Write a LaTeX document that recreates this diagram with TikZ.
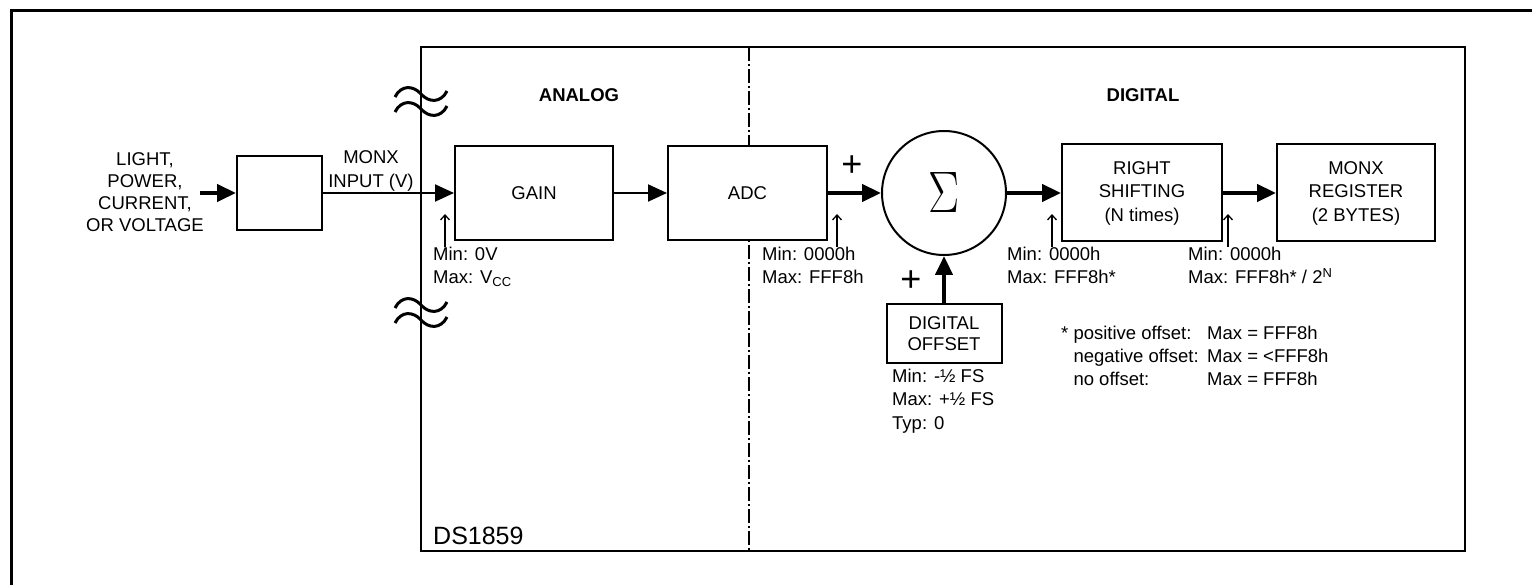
\documentclass[tikz,border=0pt]{standalone}
\usepackage{fontspec}
\setmainfont{Liberation Sans}
\usepackage{graphicx}
\usetikzlibrary{arrows.meta,positioning,shapes}

\begin{document}
\begin{tikzpicture}[x=1pt,y=-1pt,>={Triangle[length=19pt,width=17pt]},
    font=\fontsize{18.5}{23.5}\selectfont,
    block/.style={draw,line width=2pt,fill=white,align=center,inner sep=0pt},
    sig/.style={->,line width=2pt},
    bus/.style={->,line width=4.5pt},
    probe/.style={-{Straight Barb[length=5pt,width=9pt]},line width=1.3pt},
    note/.style={align=left,anchor=north west,inner sep=0pt},
    head/.style={font=\fontsize{18.5}{23.5}\selectfont\bfseries,inner sep=0pt},
    plus/.style={font=\fontsize{36}{36}\selectfont,inner sep=0pt},
    wave/.style={line width=3pt}]

        \useasboundingbox (0,0) rectangle (1532,585);

        % frames
        \draw[line width=3pt] (11,585) -- (11,11) -- (1532,11);
        \draw[line width=2.5pt] (421,47) rectangle (1465,551);
        \draw[line width=1.3pt,dash pattern=on 14pt off 3pt on 2pt off 3pt] (749,47) -- (749,551);

        % break marks
        \foreach \m in {94,109,305,320}
            \draw[wave] (395,\m+3) .. controls (401,\m-9) and (413,\m-9) .. (421,\m)
                        .. controls (429,\m+9) and (441,\m+9) .. (447,\m-3);

        \node[head] (analog) at (579,95) {ANALOG};
        \node[head] (digital) at (1143,95) {DIGITAL};

        % blocks
        \node[block,minimum width=85pt,minimum height=74pt] (sensor) at (279.5,193) {};
        \node[block,minimum width=158pt,minimum height=94pt] (gain) at (534,193) {GAIN};
        \node[block,minimum width=159pt,minimum height=94pt] (adc) at (747.5,193) {ADC};
        \node[circle,draw,line width=2pt,fill=white,minimum size=124pt,inner sep=0pt]
             (sum) at (944,193) {\resizebox{31pt}{40pt}{$\Sigma$}};
        \node[block,minimum width=160pt,minimum height=97pt] (shift) at (1142,193)
             {RIGHT\\SHIFTING\\(N times)};
        \node[block,minimum width=158pt,minimum height=97pt] (reg) at (1356,193)
             {MONX\\REGISTER\\(2 BYTES)};
        \node[block,minimum width=115pt,minimum height=59pt,
              font=\fontsize{18.5}{21}\selectfont] (offset) at (944,333.5)
             {DIGITAL\\OFFSET};

        % signal path
        \coordinate (src) at (200,193);
        \path (src)    edge[bus] (sensor)
              (sensor) edge[sig] (gain)
              (gain)   edge[sig] (adc)
              (adc)    edge[bus] (sum)
              (sum)    edge[bus] (shift)
              (shift)  edge[bus] (reg)
              (offset) edge[bus] (sum);

        \node[plus] (plusadc) at (852,166) {+};
        \node[plus] (plusoff) at (911,281) {+};

        % texts
        \node[align=center,anchor=north,inner sep=0pt,font=\fontsize{18.5}{22.2}\selectfont]
             (input) at (145,152) {LIGHT,\\POWER,\\CURRENT,\\OR VOLTAGE};
        \node[align=center,anchor=north,inner sep=0pt] (monx) at (371,150.5)
             {MONX\\INPUT (V)};

        \node[note] (vin) at (433,246.5) {Min: 0V\\Max: V\textsubscript{CC}};
        \node[note] (adcout) at (762,246.5) {Min: 0000h\\Max: FFF8h};
        \node[note] (shiftin) at (1007,246.5) {Min: 0000h\\Max: FFF8h*};
        \node[note] (regin) at (1188,246.5) {Min: 0000h\\Max: FFF8h* / 2\textsuperscript{N}};
        \node[note] (offrange) at (892,368.5) {Min: -½ FS\\Max: +½ FS\\Typ: 0};
        \node[note,font=\fontsize{18.5}{23}\selectfont] (fnkey) at (1061,325.5)
             {* positive offset:\\\hphantom{* }negative offset:\\\hphantom{* }no offset:};
        \node[note,font=\fontsize{18.5}{23}\selectfont] (fnval) at (1207,325.5)
             {Max = FFF8h\\Max = <FFF8h\\Max = FFF8h};

        \node[anchor=base west,inner sep=0pt,font=\fontsize{25}{30}\selectfont]
             (chip) at (433,544) {DS1859};

        % probes
        \foreach \n/\x in {a/445,b/837,c/1052,d/1228} {
            \coordinate (probe\n) at (\x,247);
            \coordinate (tip\n) at (\x,214);
            \draw[probe] (probe\n) -- (tip\n);
        }
      \end{tikzpicture}
\end{document}
